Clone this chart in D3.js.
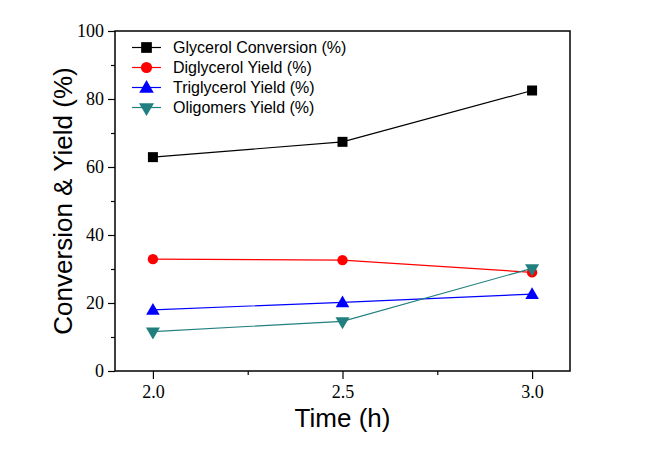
<!DOCTYPE html>
<html><head><meta charset="utf-8">
<script src="https://cdn.jsdelivr.net/npm/d3@7"></script>
<style>body{margin:0;background:#fff}
.tick text{font-family:"Liberation Serif","Times New Roman",serif !important;font-size:18px !important;fill:#000}
</style>
</head><body>
<svg id="c" width="650" height="454"></svg>
<script>
const times = [2.0, 2.5, 3.0];
const seriesNames = ["Glycerol Conversion (%)", "Diglycerol Yield (%)", "Triglycerol Yield (%)", "Oligomers Yield (%)"];
const glycerolConversion = [62.9, 67.4, 82.5];
const diglycerolYield = [32.9, 32.6, 29.0];
const triglycerolYield = [18.0, 20.2, 22.6];
const oligomersYield = [11.6, 14.6, 30.2];
const seriesColors = ["#000000", "#ff0000", "#0000ff", "#217f7f"];
const seriesSymbols = ["square", "circle", "triangle", "triangleDown"];
const xTicks = [2.0, 2.5, 3.0];
const yTicks = [0, 20, 40, 60, 80, 100];

const svg = d3.select("#c");
const L = 115, R = 570, T = 31, B = 371;
const x = d3.scaleLinear().domain([1.9, 3.1]).range([L, R]);
const y = d3.scaleLinear().domain([0, 100]).range([B, T]);

const series = [glycerolConversion, diglycerolYield, triglycerolYield, oligomersYield];

svg.append("rect").attr("x", L).attr("y", T).attr("width", R - L).attr("height", B - T)
  .attr("fill", "none").attr("stroke", "#000").attr("stroke-width", 1.5);

const xAxis = d3.axisBottom(x).tickValues(xTicks).tickFormat(d3.format(".1f")).tickSize(8).tickPadding(6);
svg.append("g").attr("transform", `translate(0,${B})`).call(xAxis);
const xMinor = d3.axisBottom(x).tickValues([2.25, 2.75]).tickFormat("").tickSize(4);
svg.append("g").attr("transform", `translate(0,${B})`).call(xMinor);
const yAxis = d3.axisLeft(y).tickValues(yTicks).tickSize(7).tickPadding(4);
svg.append("g").attr("transform", `translate(${L},0)`).call(yAxis);
const yMinor = d3.axisLeft(y).tickValues([10, 30, 50, 70, 90]).tickFormat("").tickSize(4);
svg.append("g").attr("transform", `translate(${L},0)`).call(yMinor);
svg.selectAll(".domain").remove();
svg.selectAll(".tick line").attr("stroke", "#000").attr("stroke-width", 1.2);
svg.selectAll("g").attr("font-family", "Liberation Serif").attr("font-size", 18);

svg.append("text").attr("x", (L + R) / 2).attr("y", 427).attr("text-anchor", "middle")
  .attr("font-family", "'Liberation Sans', Arial, sans-serif").attr("font-size", 26).text("Time (h)");
svg.append("text").attr("transform", `translate(72,${(T + B) / 2}) rotate(-90)`).attr("text-anchor", "middle")
  .attr("font-family", "'Liberation Sans', Arial, sans-serif").attr("font-size", 26).text("Conversion & Yield (%)");

function sym(name, k) {
  k = k || 1;
  if (name === "square") return d3.symbol(d3.symbolSquare, 100 * k)();
  if (name === "circle") return d3.symbol(d3.symbolCircle, 85 * k)();
  if (name === "triangle") return d3.symbol(d3.symbolTriangle, 80 * k)();
  const s = Math.sqrt(k);
  return `M0,${8 * s}L${-7 * s},${-4 * s}L${7 * s},${-4 * s}Z`;
}

const line = d3.line().x((d, i) => x(times[i])).y(d => y(d));
series.forEach((vals, s) => {
  svg.append("path").attr("d", line(vals)).attr("fill", "none").attr("stroke", seriesColors[s]).attr("stroke-width", 1.2);
});
series.forEach((vals, s) => {
  svg.selectAll(null).data(vals).enter().append("path")
    .attr("d", sym(seriesSymbols[s]))
    .attr("transform", (d, i) => `translate(${x(times[i])},${y(d) + (seriesSymbols[s] === "triangle" ? 1 : 0)})`)
    .attr("fill", seriesColors[s]);
});

const lg = svg.append("g");
seriesNames.forEach((n, i) => {
  const yy = 47.5 + i * 20;
  lg.append("line").attr("x1", 132).attr("x2", 161).attr("y1", yy).attr("y2", yy)
    .attr("stroke", seriesColors[i]).attr("stroke-width", 1.2);
  lg.append("path").attr("d", sym(seriesSymbols[i], 1.15))
    .attr("transform", `translate(146.5,${yy + (seriesSymbols[i] === "triangle" ? 1 : 0)})`).attr("fill", seriesColors[i]);
  lg.append("text").attr("x", 173).attr("y", yy + 5.5).attr("font-family", "'Liberation Sans', Arial, sans-serif")
    .attr("font-size", 16).text(n);
});
</script>
</body></html>
